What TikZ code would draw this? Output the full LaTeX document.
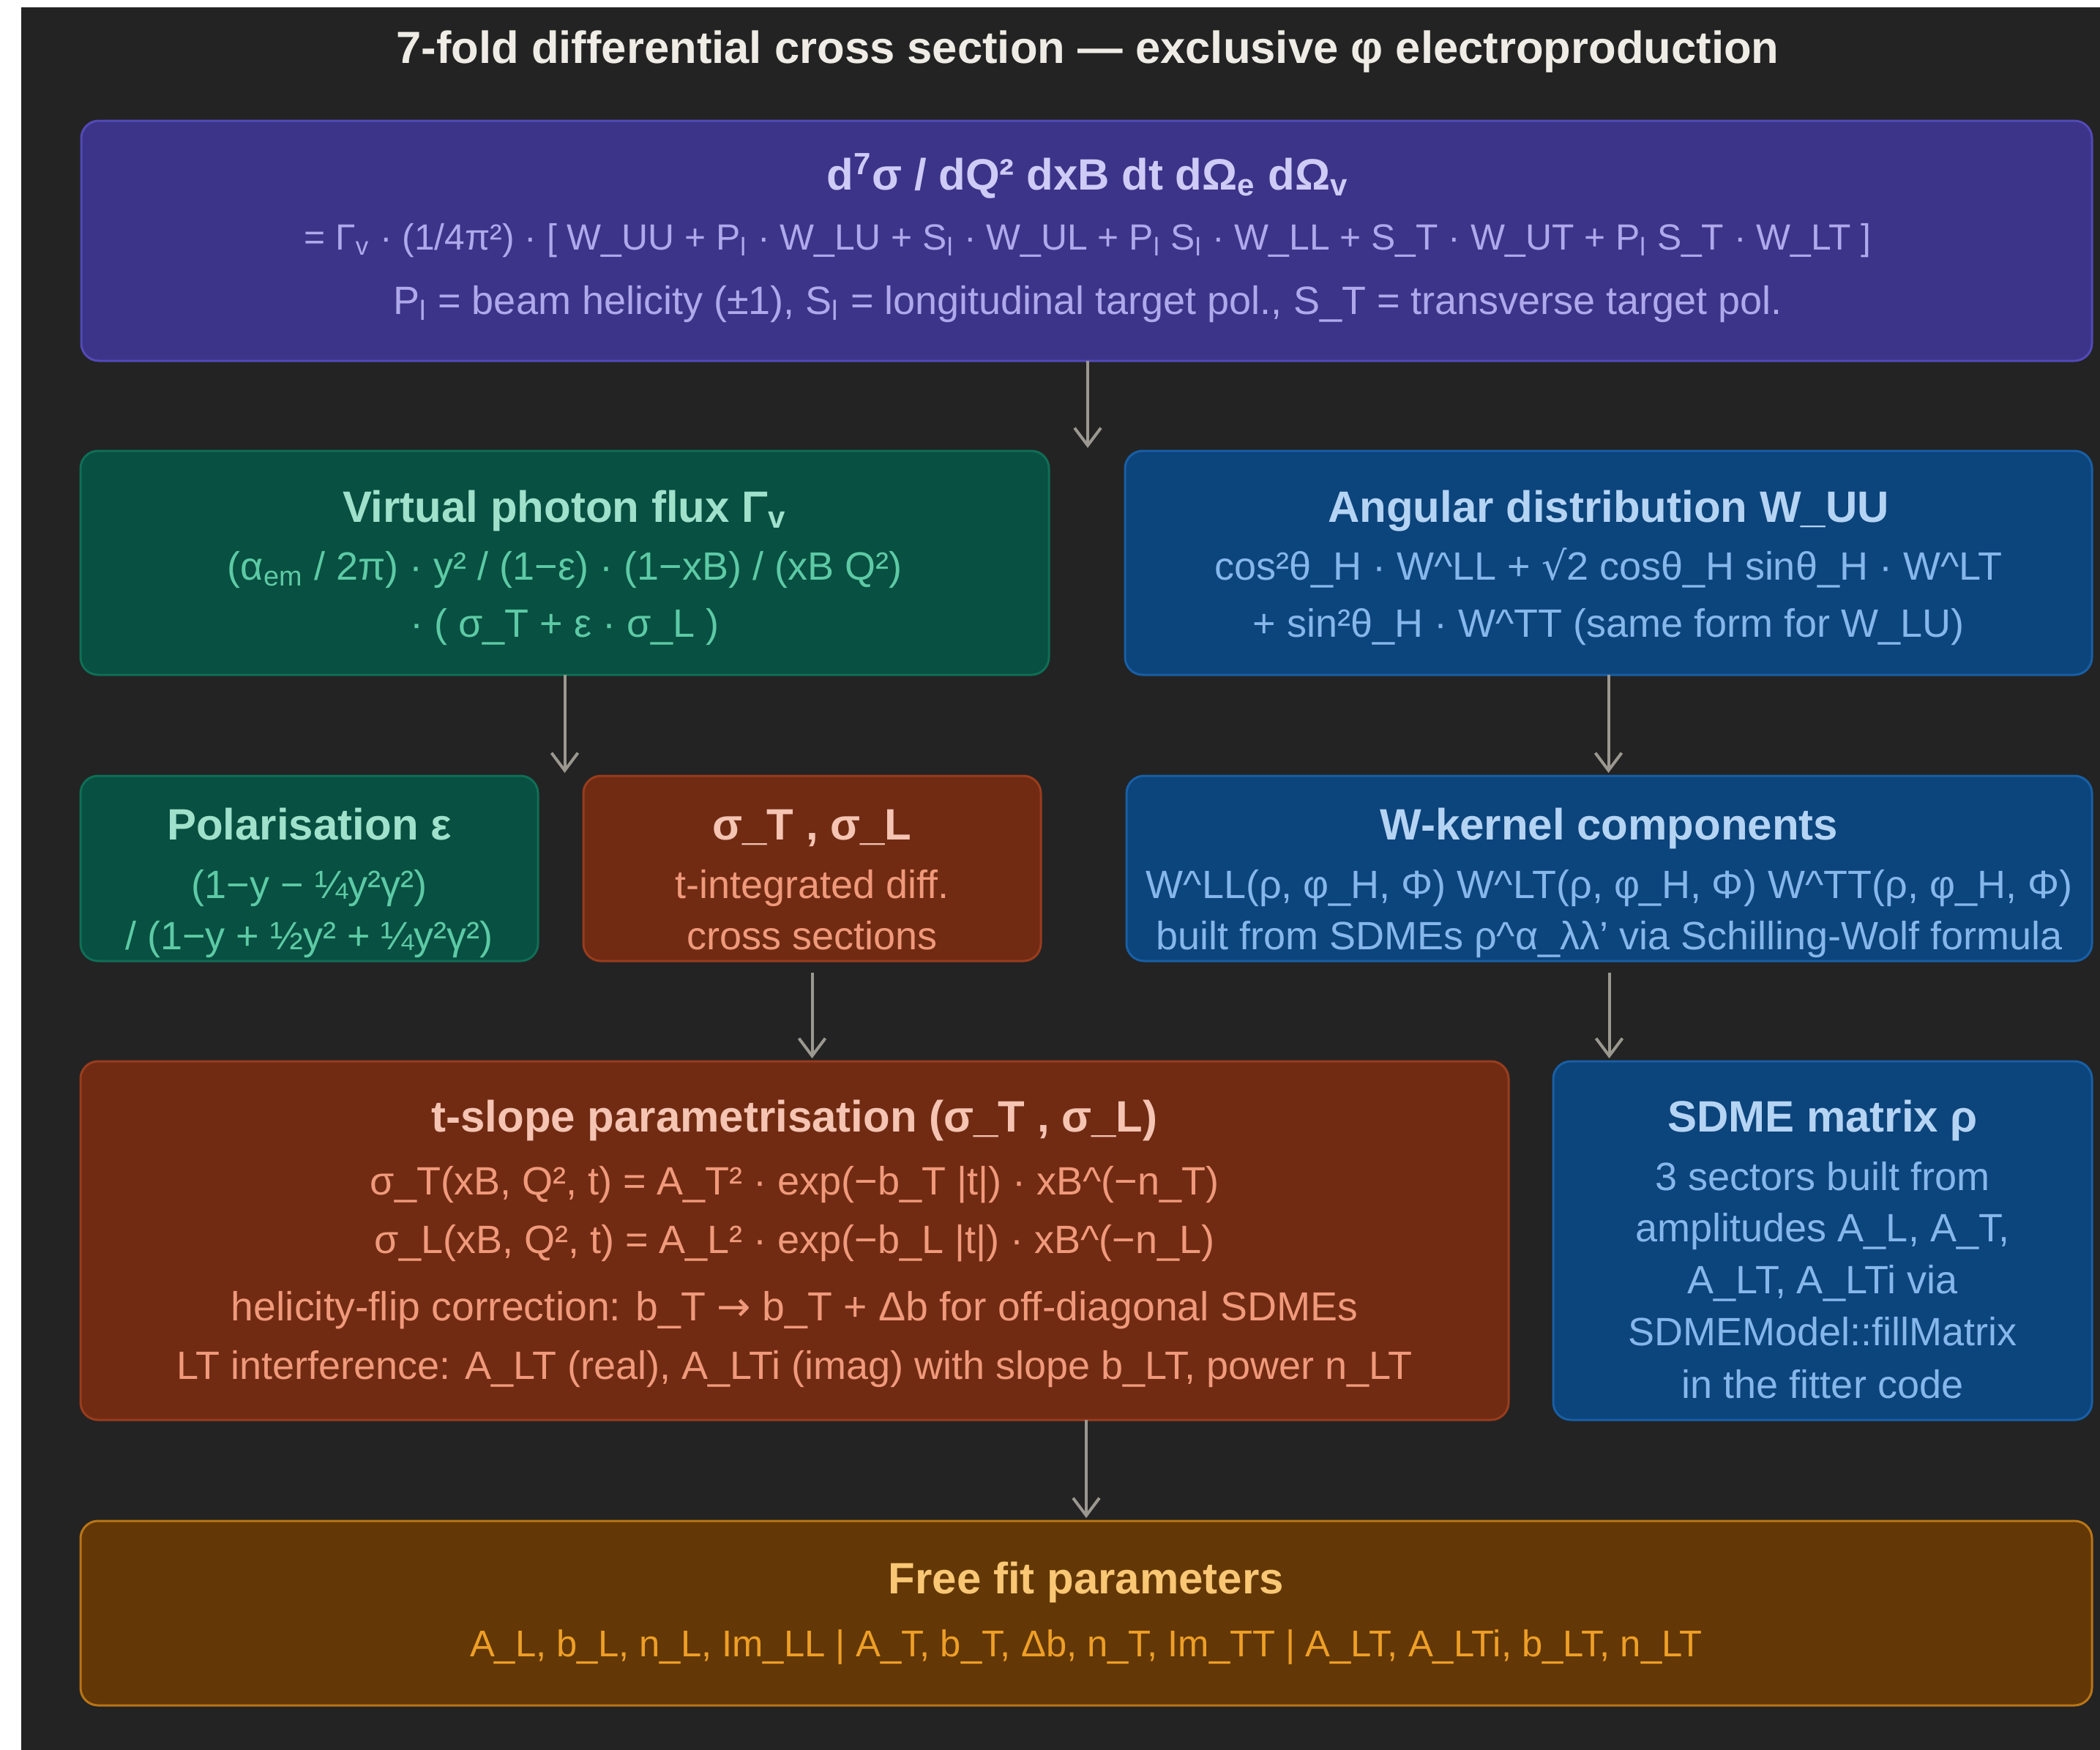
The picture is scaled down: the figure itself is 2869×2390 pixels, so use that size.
\documentclass[tikz,border=0pt]{standalone}
\usepackage{fontspec}
\setmainfont{Liberation Sans}
\newfontfamily\symf{DejaVu Sans}
\usetikzlibrary{arrows.meta,fit}

% palette
\definecolor{bgdark}{HTML}{232323}
\definecolor{titlecol}{HTML}{EEECE5}
\definecolor{arrowgray}{HTML}{9A988F}
\definecolor{puFill}{HTML}{3C3489}\definecolor{puLine}{HTML}{534AB7}
\definecolor{puHead}{HTML}{CECBF6}\definecolor{puText}{HTML}{AFA9EC}
\definecolor{teFill}{HTML}{085041}\definecolor{teLine}{HTML}{0F6E56}
\definecolor{teHead}{HTML}{9FE1CB}\definecolor{teText}{HTML}{5DCAA5}
\definecolor{coFill}{HTML}{712B13}\definecolor{coLine}{HTML}{993C1D}
\definecolor{coHead}{HTML}{F5C4B3}\definecolor{coText}{HTML}{F0997B}
\definecolor{blFill}{HTML}{0C447C}\definecolor{blLine}{HTML}{185FA5}
\definecolor{blHead}{HTML}{B5D4F4}\definecolor{blText}{HTML}{85B7EB}
\definecolor{amFill}{HTML}{633806}\definecolor{amLine}{HTML}{BA7517}
\definecolor{amHead}{HTML}{FAC775}\definecolor{amText}{HTML}{EF9F27}

% small helpers for the formula text
\newcommand\crt{\textasciicircum}
\newcommand\rarr{{\symf →}}
\newcommand\sqrtsym{{\symf √}}
\newcommand\sbs[1]{\textsubscript{#1}}

\begin{document}
\begin{tikzpicture}[x=0.25pt, y=-0.25pt,
  box/.style={rounded corners=6pt, line width=0.75pt, inner sep=0pt, outer sep=0pt},
  pubox/.style={box, fill=puFill, draw=puLine},
  tebox/.style={box, fill=teFill, draw=teLine},
  cobox/.style={box, fill=coFill, draw=coLine},
  blbox/.style={box, fill=blFill, draw=blLine},
  ambox/.style={box, fill=amFill, draw=amLine},
  hd/.style={anchor=base, inner sep=0pt, font=\fontsize{15}{18}\selectfont\bfseries},
  tx/.style={anchor=base, inner sep=0pt, font=\fontsize{13.5}{16}\selectfont},
  arr/.style={draw=arrowgray, line width=1pt, -{Straight Barb[length=6pt,width=9pt]}}
]
\useasboundingbox (0,0) rectangle (2869,2390);
\fill[white] (-20,-20) rectangle (2900,2420);
\fill[bgdark] (29,10) rectangle (2900,2420);

% heading
\node[anchor=base, inner sep=0pt, text=titlecol, font=\fontsize{15.4}{18}\selectfont\bfseries] (title) at (1486,86)
  {7-fold differential cross section — exclusive φ electroproduction};

% boxes
\node[pubox, fit={(111,165)(2858,493)}] (top) {};
\node[tebox, fit={(110,616)(1433,922)}] (flux) {};
\node[blbox, fit={(1537,616)(2858,922)}] (ang) {};
\node[tebox, fit={(110,1060)(735,1313)}] (pol) {};
\node[cobox, fit={(797,1060)(1422,1313)}] (sig) {};
\node[blbox, fit={(1539,1060)(2858,1313)}] (wk) {};
\node[cobox, fit={(110,1450)(2061,1940)}] (ts) {};
\node[blbox, fit={(2122,1450)(2858,1940)}] (sdme) {};
\node[ambox, fit={(110,2078)(2858,2330)}] (params) {};

% cross section
\node[hd, text=puHead] (topA) at (1486,259) {d\textsuperscript{7}σ / dQ² dxB dt dΩ\sbs{e} dΩ\sbs{v}};
\node[tx, text=puText, font=\fontsize{12.45}{15}\selectfont] (topB) at (1486,341) {= Γ\sbs{v} · (1/4π²) · [ W\_UU + P\sbs{l} · W\_LU + S\sbs{l} · W\_UL + P\sbs{l} S\sbs{l} · W\_LL + S\_T · W\_UT + P\sbs{l} S\_T · W\_LT ]};
\node[tx, text=puText] (topC) at (1486,429) {P\sbs{l} = beam helicity (±1), S\sbs{l} = longitudinal target pol., S\_T = transverse target pol.};

% virtual photon flux
\node[hd, text=teHead] (fluxA) at (771.5,713) {Virtual photon flux Γ\sbs{v}};
\node[tx, text=teText] (fluxB) at (771.5,792) {(α\sbs{em} / 2π) · y² / (1−ε) · (1−xB) / (xB Q²)};
\node[tx, text=teText] (fluxC) at (771.5,870) {· ( σ\_T + ε · σ\_L )};

% angular distribution
\node[hd, text=blHead] (angA) at (2197.5,713) {Angular distribution W\_UU};
\node[tx, text=blText] (angB) at (2197.5,792) {cos²θ\_H · W\crt{}LL + \sqrtsym{}2 cosθ\_H sinθ\_H · W\crt{}LT};
\node[tx, text=blText] (angC) at (2197.5,870) {+ sin²θ\_H · W\crt{}TT (same form for W\_LU)};

% polarisation
\node[hd, text=teHead] (polA) at (422.5,1147) {Polarisation ε};
\node[tx, text=teText] (polB) at (422.5,1227) {(1−y − ¼y²γ²)};
\node[tx, text=teText] (polC) at (422.5,1297) {/ (1−y + ½y² + ¼y²γ²)};

% sigma_T, sigma_L
\node[hd, text=coHead] (sigA) at (1109.5,1147) {σ\_T , σ\_L};
\node[tx, text=coText] (sigB) at (1109.5,1227) {t-integrated diff.};
\node[tx, text=coText] (sigC) at (1109.5,1297) {cross sections};

% W kernels
\node[hd, text=blHead] (wkA) at (2198.5,1147) {W-kernel components};
\node[tx, text=blText] (wkB) at (2198.5,1227) {W\crt{}LL(ρ, φ\_H, Φ) W\crt{}LT(ρ, φ\_H, Φ) W\crt{}TT(ρ, φ\_H, Φ)};
\node[tx, text=blText] (wkC) at (2198.5,1297) {built from SDMEs ρ\crt{}α\_λλ' via Schilling-Wolf formula};

% t-slope parametrisation
\node[hd, text=coHead] (tsA) at (1085.5,1546) {t-slope parametrisation (σ\_T , σ\_L)};
\node[tx, text=coText] (tsB) at (1085.5,1632) {σ\_T(xB, Q², t) = A\_T² · exp(−b\_T |t|) · xB\crt{}(−n\_T)};
\node[tx, text=coText] (tsC) at (1085.5,1712) {σ\_L(xB, Q², t) = A\_L² · exp(−b\_L |t|) · xB\crt{}(−n\_L)};
\node[tx, text=coText, font=\fontsize{13.85}{16}\selectfont] (tsD) at (1085.5,1804) {helicity-flip correction: b\_T \rarr{} b\_T + Δb for off-diagonal SDMEs};
\node[tx, text=coText] (tsE) at (1085.5,1884) {LT interference: A\_LT (real), A\_LTi (imag) with slope b\_LT, power n\_LT};

% SDME matrix
\node[hd, text=blHead] (sdA) at (2490,1546) {SDME matrix ρ};
\node[tx, text=blText] (sdB) at (2490,1626) {3 sectors built from};
\node[tx, text=blText] (sdC) at (2490,1696) {amplitudes A\_L, A\_T,};
\node[tx, text=blText] (sdD) at (2490,1767) {A\_LT, A\_LTi via};
\node[tx, text=blText] (sdE) at (2490,1838) {SDMEModel::fillMatrix};
\node[tx, text=blText] (sdF) at (2490,1910) {in the fitter code};

% free parameters
\node[hd, text=amHead] (parA) at (1484,2177) {Free fit parameters};
\node[tx, text=amText, font=\fontsize{12.7}{15}\selectfont] (parB) at (1484,2263) {A\_L, b\_L, n\_L, Im\_LL | A\_T, b\_T, Δb, n\_T, Im\_TT | A\_LT, A\_LTi, b\_LT, n\_LT};

% connectors
\coordinate (j1) at (1486,612);
\coordinate (j2) at (771.5,1056);
\draw[arr] (top.south -| j1) -- (j1);
\draw[arr] (flux.south) -- (j2);
\draw[arr, shorten >=1pt] (ang.south) -- (ang.south |- wk.north);
\draw[arr, shorten <=4pt, shorten >=1pt] (sig.south) -- (sig.south |- ts.north);
\draw[arr, shorten <=4pt, shorten >=1pt] (wk.south) -- (wk.south |- sdme.north);
\draw[arr, shorten >=1pt] (ts.south -| params.north) -- (params.north);
\end{tikzpicture}
\end{document}
